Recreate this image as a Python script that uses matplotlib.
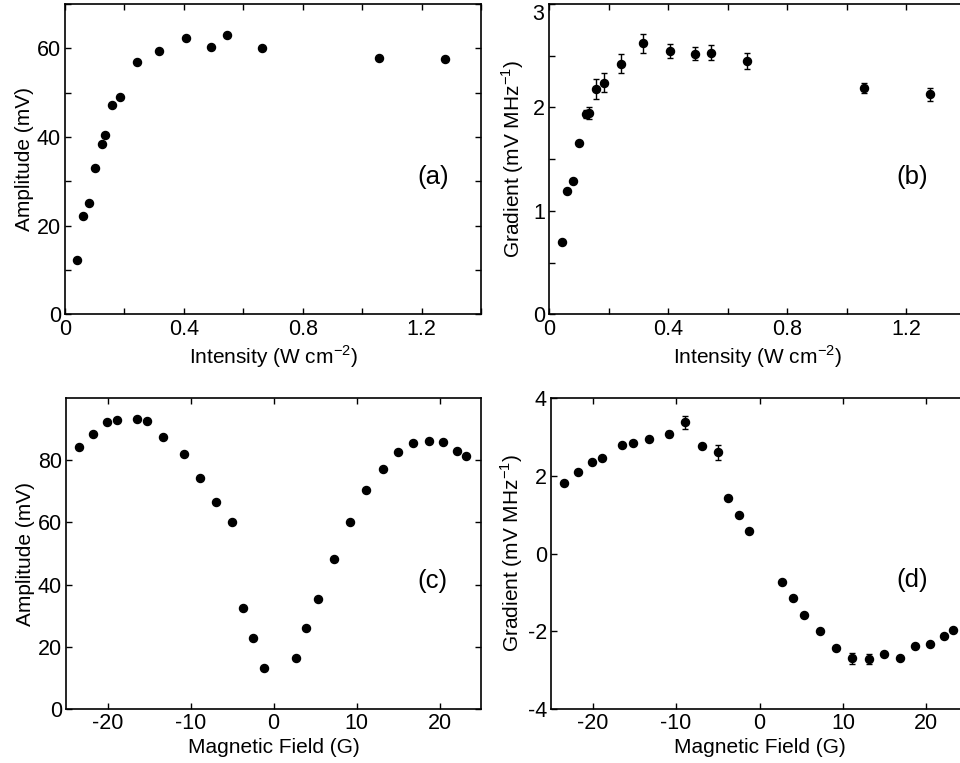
import matplotlib
matplotlib.use("Agg")
import matplotlib.pyplot as plt
import numpy as np

plt.rcParams['font.family'] = ['Liberation Sans', 'DejaVu Sans']
plt.rcParams['mathtext.fontset'] = 'custom'
plt.rcParams['mathtext.rm'] = 'Liberation Sans'
plt.rcParams['axes.unicode_minus'] = False

# ---- data ----
intensity = [0.042, 0.061, 0.080, 0.100, 0.123, 0.135, 0.157, 0.186, 0.241,
             0.315, 0.406, 0.490, 0.545, 0.664, 1.058, 1.280]
amp_a = [12.2, 22.1, 25.2, 33.0, 38.5, 40.4, 47.2, 49.1, 56.9, 59.3, 62.3,
         60.2, 63.1, 60.1, 57.8, 57.5]
grad_b = [0.70, 1.19, 1.29, 1.66, 1.935, 1.95, 2.18, 2.24, 2.425, 2.62, 2.545,
          2.52, 2.53, 2.45, 2.19, 2.127]
grad_b_err = [0.02, 0.02, 0.02, 0.02, 0.04, 0.058, 0.096, 0.093, 0.093, 0.09,
              0.07, 0.063, 0.07, 0.08, 0.047, 0.066]

field = [-23.4, -21.8, -20.05, -18.85, -16.45, -15.2, -13.3, -10.8, -8.9,
         -6.95, -5.0, -3.72, -2.46, -1.2, 2.68, 3.97, 5.33, 7.23, 9.23, 11.13,
         13.15, 14.95, 16.8, 18.7, 20.4, 22.15, 23.25]
amp_c = [84.3, 88.5, 92.4, 93.0, 93.2, 92.6, 87.4, 81.9, 74.3, 66.4, 60.0,
         32.4, 22.7, 13.3, 16.4, 26.0, 35.4, 48.2, 60.1, 70.4, 77.3, 82.5,
         85.5, 86.2, 85.7, 83.1, 81.4]
grad_d = [1.81, 2.10, 2.35, 2.46, 2.79, 2.85, 2.94, 3.08, 3.37, 2.76, 2.60,
          1.44, 0.99, 0.58, -0.74, -1.15, -1.58, -2.00, -2.44, -2.70, -2.71,
          -2.58, -2.70, -2.39, -2.33, -2.11, -1.96]
grad_d_err = [0.05, 0.05, 0.05, 0.05, 0.05, 0.05, 0.05, 0.08, 0.16, 0.05, 0.19,
              0.05, 0.05, 0.05, 0.05, 0.05, 0.05, 0.05, 0.05, 0.13, 0.13,
              0.05, 0.05, 0.05, 0.05, 0.05, 0.05]

W, H = 960, 763
fig = plt.figure(figsize=(W / 100, H / 100), dpi=100)

def box(l, r, b, t):
    return [l / W, 1 - b / H, (r - l) / W, (b - t) / H]

ax_a = fig.add_axes(box(65, 481, 314.5, 4))
ax_b = fig.add_axes(box(549, 966, 314.5, 4))
ax_c = fig.add_axes(box(66, 481, 709, 398))
ax_d = fig.add_axes(box(551, 968, 709, 398))

TFS = 15.5   # tick labels
LFS = 15     # axis labels
PFS = 18.5   # panel letters
MS = 5.8

def style(ax):
    ax.tick_params(direction='in', top=True, right=True, length=4, width=1,
                   labelsize=TFS, pad=3)
    for s in ax.spines.values():
        s.set_linewidth(1.2)

def labels_every_other(vals):
    return ['%g' % v if i % 2 == 0 else '' for i, v in enumerate(vals)]

xt = np.round(np.arange(0, 1.41, 0.2), 2)

# (a)
ax_a.plot(intensity, amp_a, 'o', color='black', ms=MS)
ax_a.set_xlim(0, 1.4)
ax_a.set_ylim(0, 70)
ax_a.set_xticks(xt)
ax_a.set_xticklabels(labels_every_other(xt))
yt = np.arange(0, 71, 10)
ax_a.set_yticks(yt)
ax_a.set_yticklabels(labels_every_other(yt))
ax_a.set_xlabel('Intensity (W cm$^{\\mathregular{-2}}$)', fontsize=LFS, labelpad=3)
ax_a.set_ylabel('Amplitude (mV)', fontsize=LFS, labelpad=2)
ax_a.text(0.885, 0.444, '(a)', transform=ax_a.transAxes, fontsize=PFS,
          ha='center', va='center')
style(ax_a)

# (b)
ax_b.errorbar(intensity, grad_b, yerr=grad_b_err, fmt='o', color='black',
              ms=MS, capsize=2.2, elinewidth=1, capthick=1)
ax_b.set_xlim(0, 1.4)
ax_b.set_ylim(0, 3)
ax_b.set_xticks(xt)
ax_b.set_xticklabels(labels_every_other(xt))
ytb = np.arange(0, 3.01, 0.5)
ax_b.set_yticks(ytb)
lb = labels_every_other(ytb)
lb[-1] = ''
ax_b.set_yticklabels(lb)
# top label "3" sits just inside the figure, as in the reference
ax_b.text(-0.012, 1.0, '%g' % ytb[-1], transform=ax_b.transAxes, fontsize=TFS,
          ha='right', va='top')
ax_b.set_xlabel('Intensity (W cm$^{\\mathregular{-2}}$)', fontsize=LFS, labelpad=3)
ax_b.set_ylabel('Gradient (mV MHz$^{\\mathregular{-1}}$)', fontsize=LFS, labelpad=5)
ax_b.text(0.87, 0.444, '(b)', transform=ax_b.transAxes, fontsize=PFS,
          ha='center', va='center')
style(ax_b)

# (c)
ax_c.plot(field, amp_c, 'o', color='black', ms=MS)
ax_c.set_xlim(-25, 25)
ax_c.set_ylim(0, 100)
xtc = np.arange(-20, 21, 10)
ax_c.set_xticks(xtc)
ax_c.set_xticklabels(['%g' % v for v in xtc])
ytc = np.arange(0, 81, 20)
ax_c.set_yticks(ytc)
ax_c.set_yticklabels(['%g' % v for v in ytc])
ax_c.set_xlabel('Magnetic Field (G)', fontsize=LFS, labelpad=3)
ax_c.set_ylabel('Amplitude (mV)', fontsize=LFS, labelpad=2)
ax_c.text(0.884, 0.41, '(c)', transform=ax_c.transAxes, fontsize=PFS,
          ha='center', va='center')
style(ax_c)

# (d)
ax_d.errorbar(field, grad_d, yerr=grad_d_err, fmt='o', color='black',
              ms=MS, capsize=2.2, elinewidth=1, capthick=1)
ax_d.set_xlim(-25, 25)
ax_d.set_ylim(-4, 4)
ax_d.set_xticks(xtc)
ax_d.set_xticklabels(['%g' % v for v in xtc])
ytd = np.arange(-4, 5, 2)
ax_d.set_yticks(ytd)
ax_d.set_yticklabels(['%g' % v for v in ytd])
ax_d.set_xlabel('Magnetic Field (G)', fontsize=LFS, labelpad=3)
ax_d.set_ylabel('Gradient (mV MHz$^{\\mathregular{-1}}$)', fontsize=LFS, labelpad=2)
ax_d.text(0.865, 0.415, '(d)', transform=ax_d.transAxes, fontsize=PFS,
          ha='center', va='center')
style(ax_d)

fig.savefig('out.png', dpi=100)
